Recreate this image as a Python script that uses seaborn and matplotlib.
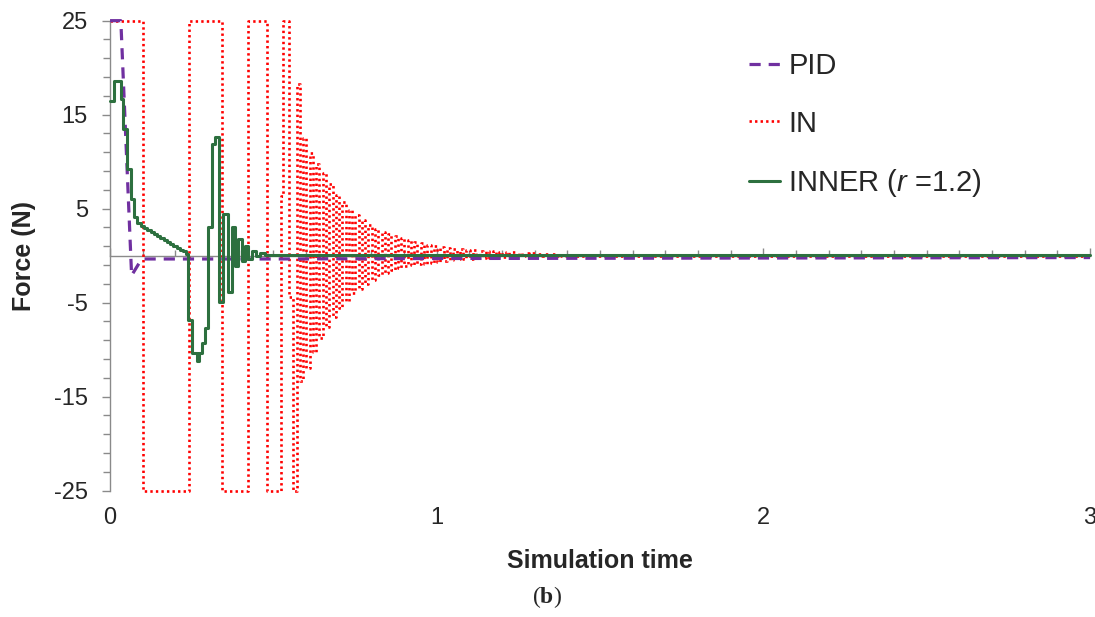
import numpy as np
import pandas as pd
import matplotlib.pyplot as plt
import matplotlib.ticker as mticker
import seaborn as sns

# PID: drops from saturation to a small negative offset
pid_t = [0, 0.033, 0.066, 0.088, 0.10, 0.5, 1.0, 2.0, 3.0]
pid_f = [25, 25, -2.1, -0.85, -0.35, -0.35, -0.3, -0.25, -0.2]

# IN: bang-bang switching, then chattering with a decaying envelope
in_sw_t = [0, 0.102, 0.243, 0.342, 0.421, 0.481, 0.522, 0.530, 0.549, 0.561]
in_sw_f = [25, -25, 25, -25, 25, -25, 6.3, 25, -4.4, -25]
in_chatter_t0 = 0.571
in_chatter_dt = 0.01
in_peak_hi = [18.3, 12.5, 10.9, 9.8, 8.8, 7.6, 6.5, 5.7, 4.9, 4.3,
              3.8, 3.3, 2.8, 2.5, 2.3, 2.1, 1.9, 1.7, 1.5, 1.3,
              1.1, 1.0, 0.9, 0.8, 0.75, 0.7, 0.65, 0.6, 0.55, 0.5,
              0.45, 0.4, 0.4, 0.35, 0.3, 0.3, 0.25, 0.2, 0.2, 0.15, 0.1]
in_peak_lo = [-13.3, -12.0, -10.2, -8.8, -7.6, -6.5, -5.6, -4.8, -4.0, -3.5,
              -3.0, -2.6, -2.1, -1.8, -1.5, -1.3, -1.1, -1.0, -0.85, -0.9,
              -0.75, -0.7, -0.6, -0.5, -0.4, -0.35, -0.3, -0.25, -0.2, -0.2,
              -0.15, -0.1, -0.05, -0.05, -0.05, -0.05, 0, 0, 0, 0, 0]
in_end_t = 3.0

# INNER (r = 1.2)
inner_t = [0, 0.013, 0.033, 0.041, 0.051, 0.063, 0.074, 0.084, 0.094, 0.104,
           0.114, 0.124, 0.134, 0.144, 0.154, 0.164, 0.174, 0.184, 0.194, 0.204,
           0.214, 0.224, 0.234, 0.240, 0.252, 0.265, 0.273, 0.282, 0.292, 0.301,
           0.311, 0.321, 0.333, 0.347, 0.360, 0.373, 0.383, 0.393, 0.403, 0.413,
           0.423, 0.435, 0.446, 0.459, 0.474, 3.0]
inner_f = [16.5, 18.6, 16.7, 13.5, 9.2, 6.0, 4.1, 3.5, 3.15, 2.95,
           2.75, 2.5, 2.3, 2.1, 1.9, 1.7, 1.45, 1.25, 1.05, 0.85,
           0.65, 0.45, 0.2, -6.8, -10.4, -11.2, -10.4, -9.3, -7.7, 3.1,
           11.9, 12.6, -4.9, 4.4, -3.9, 3.1, -1.1, 1.8, -0.6, 1.0,
           -0.35, 0.5, 0.0, 0.3, 0.1, 0.1]

# build IN step series
n = len(in_peak_hi)
ch_t = in_chatter_t0 + in_chatter_dt * np.arange(2 * n)
ch_f = np.empty(2 * n)
ch_f[0::2] = in_peak_hi
ch_f[1::2] = in_peak_lo
in_t = np.concatenate([in_sw_t, ch_t, [ch_t[-1] + in_chatter_dt, in_end_t]])
in_f = np.concatenate([in_sw_f, ch_f, [0, 0]])

sns.set_theme(style="white")
plt.rcParams["font.family"] = ["Liberation Sans", "DejaVu Sans"]
plt.rcParams["axes.unicode_minus"] = False
plt.rcParams["mathtext.fontset"] = "custom"
plt.rcParams["mathtext.it"] = "Liberation Sans:italic"
plt.rcParams["mathtext.rm"] = "Liberation Serif"
plt.rcParams["mathtext.bf"] = "Liberation Serif:bold"

fig = plt.figure(figsize=(10.95, 6.17), dpi=100)
ax = fig.add_axes([0.1005, 0.2047, 0.895, 0.7618])

grey = "#8a8a8a"

sns.lineplot(x=in_t, y=in_f, ax=ax, color="#ff0000", lw=1.9,
             linestyle=(0, (0.9, 1.2)), drawstyle="steps-post",
             sort=False, estimator=None, errorbar=None, label="IN",
             clip_on=False, zorder=2)
sns.lineplot(x=pid_t, y=pid_f, ax=ax, color="#7030a0", lw=2.3,
             linestyle=(0, (3.5, 2.5)), sort=False, estimator=None,
             errorbar=None, label="PID", clip_on=False, zorder=3)
sns.lineplot(x=inner_t, y=inner_f, ax=ax, color="#2d703f", lw=2.2,
             drawstyle="steps-post", sort=False, estimator=None,
             errorbar=None, label="INNER ($r$ =1.2)", clip_on=False, zorder=4)

ax.set_xlim(0, 3)
ax.set_ylim(-25, 25)

# y axis
ax.set_yticks([-25, -15, -5, 5, 15, 25])
ax.yaxis.set_minor_locator(mticker.FixedLocator(np.arange(-23, 25, 2)))
ax.tick_params(axis="y", which="both", direction="out", color=grey, left=True,
               width=1)
ax.tick_params(axis="y", which="major", length=6, labelsize=17, pad=10)
ax.tick_params(axis="y", which="minor", length=5)

# x axis drawn through zero, labels at the bottom
ax.spines["bottom"].set_position(("data", 0))
ax.spines["bottom"].set_color(grey)
ax.spines["bottom"].set_linewidth(1)
ax.spines["bottom"].set_zorder(1)
ax.spines["left"].set_color(grey)
ax.spines["left"].set_linewidth(1)
ax.spines["top"].set_visible(False)
ax.spines["right"].set_visible(False)
ax.set_xticks([0, 1, 2, 3])
ax.xaxis.set_minor_locator(mticker.MultipleLocator(0.1))
ax.tick_params(axis="x", which="both", direction="in", color=grey, bottom=True,
               labelbottom=False, width=1)
ax.tick_params(axis="x", which="major", length=6)
ax.tick_params(axis="x", which="minor", length=4)

sec = ax.secondary_xaxis("bottom")
sec.set_xticks([0, 1, 2, 3])
sec.set_xticklabels(["0", "1", "2", "3"])
sec.tick_params(length=0, labelsize=17, pad=12)
sec.spines["bottom"].set_visible(False)

ax.set_ylabel("Force (N)", fontsize=18, fontweight="bold")
ax.yaxis.set_label_coords(-0.076, 0.5)
fig.text(0.548, 1 - 561 / 617, "Simulation time", fontsize=18,
         fontweight="bold", ha="center", va="center")

handles, labels = ax.get_legend_handles_labels()
order = [labels.index("PID"), labels.index("IN"), labels.index("INNER ($r$ =1.2)")]
ax.legend([handles[i] for i in order], [labels[i] for i in order],
          loc="upper left", bbox_to_anchor=(0.684, 0.915),
          bbox_transform=fig.transFigure, frameon=False, fontsize=21,
          handlelength=1.05, handletextpad=0.3, labelspacing=1.0,
          borderpad=0, borderaxespad=0)

fig.text(0.4995, 1 - 597 / 617, r"($\mathbf{b}$)", fontsize=17,
         family="Liberation Serif", ha="center", va="center")

fig.savefig("out.png", dpi=100)
